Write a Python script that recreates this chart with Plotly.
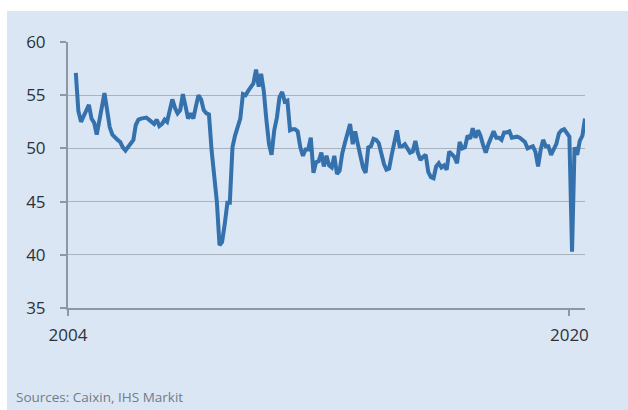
import pandas as pd
import plotly.graph_objects as go

# Caixin China manufacturing PMI, monthly Apr 2004 - Jul 2020
start_month = "2004-04-01"
pmi_values = [
    # 2004 (Apr-Dec)
    57.1, 53.5, 52.5, 53.0, 53.6, 54.1, 52.8, 52.4, 51.3,
    # 2005
    52.7, 54.2, 55.2, 53.6, 52.0, 51.3, 51.0, 50.8, 50.6, 50.1, 49.8, 50.1,
    # 2006
    50.4, 50.8, 52.2, 52.7, 52.8, 52.9, 52.9, 52.7, 52.5, 52.3, 52.7, 52.1,
    # 2007
    52.3, 52.7, 52.5, 53.4, 54.6, 53.8, 53.3, 53.6, 55.1, 54.0, 52.8, 53.3,
    # 2008
    52.8, 54.0, 55.0, 54.6, 53.6, 53.3, 53.2, 49.8, 47.5, 45.0, 40.9, 41.2,
    # 2009
    42.9, 44.9, 44.9, 50.1, 51.2, 52.0, 52.8, 55.1, 55.0, 55.4, 55.7, 56.1,
    # 2010
    57.4, 55.8, 57.0, 55.4, 52.7, 50.4, 49.4, 51.7, 52.9, 54.8, 55.3, 54.4,
    # 2011
    54.5, 51.7, 51.8, 51.8, 51.6, 50.1, 49.3, 49.9, 49.9, 51.0, 47.7, 48.7,
    # 2012
    48.8, 49.6, 48.3, 49.3, 48.4, 48.2, 49.3, 47.6, 47.9, 49.5, 50.5, 51.5,
    # 2013
    52.3, 50.4, 51.6, 50.4, 49.2, 48.2, 47.7, 50.1, 50.2, 50.9, 50.8, 50.5,
    # 2014
    49.5, 48.5, 48.0, 48.1, 49.4, 50.7, 51.7, 50.2, 50.2, 50.4, 50.0, 49.6,
    # 2015
    49.7, 50.7, 49.6, 48.9, 49.2, 49.4, 47.8, 47.3, 47.2, 48.3, 48.6, 48.2,
    # 2016
    48.4, 48.0, 49.7, 49.4, 49.2, 48.6, 50.6, 50.0, 50.1, 51.2, 50.9, 51.9,
    # 2017
    51.0, 51.7, 51.2, 50.3, 49.6, 50.4, 51.1, 51.6, 51.0, 51.0, 50.8, 51.5,
    # 2018
    51.5, 51.6, 51.0, 51.1, 51.1, 51.0, 50.8, 50.6, 50.0, 50.1, 50.2, 49.7,
    # 2019
    48.3, 49.9, 50.8, 50.2, 50.2, 49.4, 49.9, 50.4, 51.4, 51.7, 51.8, 51.5,
    # 2020 (Jan-Jul)
    51.1, 40.3, 50.1, 49.4, 50.7, 51.2, 52.8,
]
dates = pd.date_range(start_month, periods=len(pmi_values), freq="MS")

x_tick_vals = ["2004-01-01", "2020-01-01"]
x_tick_text = ["2004", "2020"]
y_tick_vals = [35, 40, 45, 50, 55, 60]
source_text = "Sources: Caixin, IHS Markit"

BG = "#dae6f4"
LINE = "#3471ad"
AXIS = "#8d98a4"
GRID = "#a9b3bd"
TXT = "#2b323a"

fig = go.Figure()
fig.add_trace(go.Scatter(
    x=dates, y=pmi_values, mode="lines",
    line=dict(color=LINE, width=4),
    hoverinfo="skip", showlegend=False,
))

W, H = 628, 410
L, R, T, B = 68, 43, 42, 102
pw, ph = W - L - R, H - T - B

def px_x(px):
    return (px - L) / pw

def px_y(py):
    return (H - B - py) / ph

fig.add_shape(type="rect", xref="paper", yref="paper",
              x0=px_x(7), x1=px_x(W + 5), y0=px_y(H + 5), y1=px_y(11),
              fillcolor=BG, line=dict(width=0), layer="below")

fig.add_annotation(text=source_text, xref="paper", yref="paper",
                   x=px_x(14), y=px_y(397), xanchor="left", yanchor="middle",
                   showarrow=False, font=dict(family="Open Sans", size=13.5, color="#737b86"))

fig.update_layout(
    width=W, height=H,
    margin=dict(l=L, r=R, t=T, b=B, pad=0),
    paper_bgcolor="white", plot_bgcolor="rgba(0,0,0,0)",
    font=dict(family="Open Sans", size=17, color=TXT),
    xaxis=dict(
        type="date", range=["2004-01-01", "2020-07-01"],
        tickmode="array", tickvals=x_tick_vals, ticktext=x_tick_text,
        showgrid=False, zeroline=False,
        showline=True, linecolor=AXIS, linewidth=2,
        ticks="outside", ticklen=6, tickwidth=2, tickcolor=AXIS,
        ticklabelstandoff=5,
    ),
    yaxis=dict(
        range=[35, 60], tickmode="array", tickvals=y_tick_vals,
        showgrid=True, gridcolor=GRID, gridwidth=1, zeroline=False,
        showline=True, linecolor=AXIS, linewidth=2,
        ticks="outside", ticklen=6, tickwidth=2, tickcolor=AXIS,
        ticklabelstandoff=11,
    ),
)

fig.write_html("out.html")
